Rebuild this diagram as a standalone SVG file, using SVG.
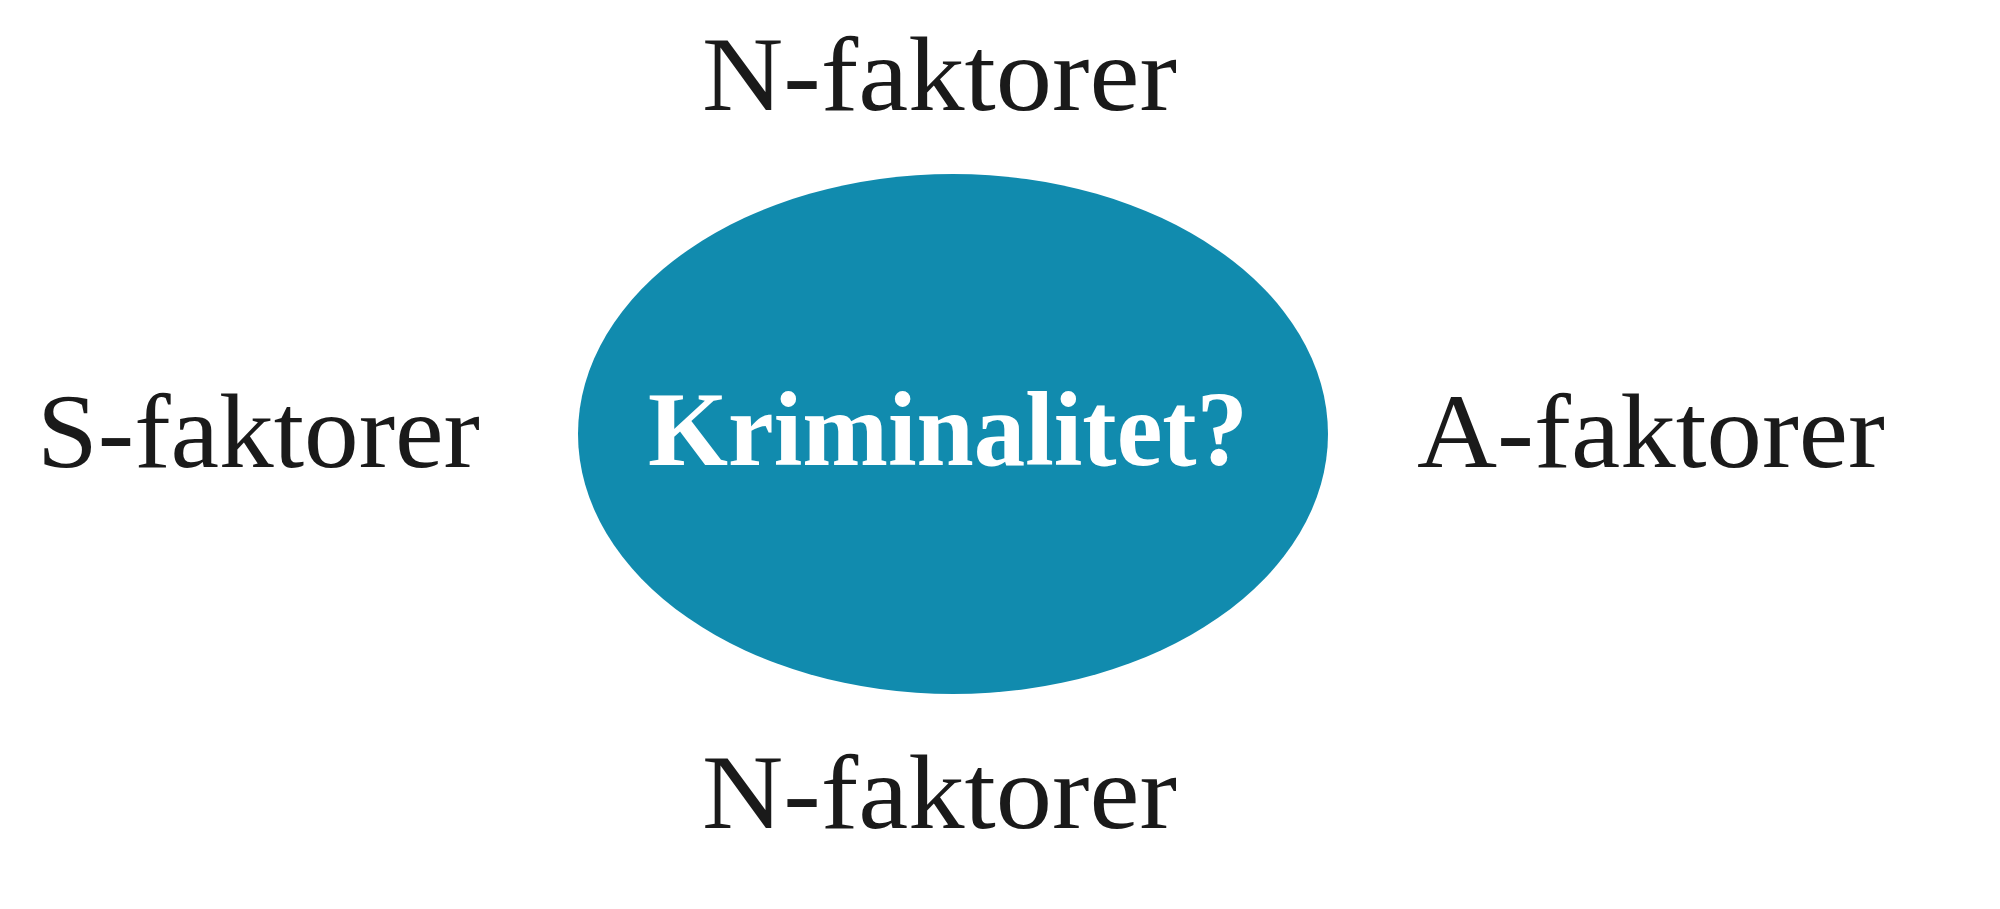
<svg xmlns="http://www.w3.org/2000/svg" width="2000" height="909" viewBox="0 0 2000 909">
<style>
.lbl{font-family:"Liberation Serif","Times New Roman",serif;font-size:106px;fill:#1a1a1a}
.ctr{font-family:"Liberation Serif","Times New Roman",serif;font-size:106px;font-weight:bold;fill:#ffffff}
</style>
<rect width="2000" height="909" fill="#ffffff"/>
<g id="center">
<ellipse cx="953" cy="434" rx="375" ry="260" fill="#118BAE"/>
<text class="ctr" x="648" y="465" textLength="600" lengthAdjust="spacingAndGlyphs">Kriminalitet?</text>
</g>
<g id="n-top"><text class="lbl" x="702" y="110" textLength="475" lengthAdjust="spacingAndGlyphs">N-faktorer</text></g>
<g id="s-left"><text class="lbl" x="37" y="467" textLength="443" lengthAdjust="spacingAndGlyphs">S-faktorer</text></g>
<g id="a-right"><text class="lbl" x="1417" y="467" textLength="468" lengthAdjust="spacingAndGlyphs">A-faktorer</text></g>
<g id="n-bottom"><text class="lbl" x="702" y="828" textLength="475" lengthAdjust="spacingAndGlyphs">N-faktorer</text></g>
<g id="connectors"></g>
</svg>
